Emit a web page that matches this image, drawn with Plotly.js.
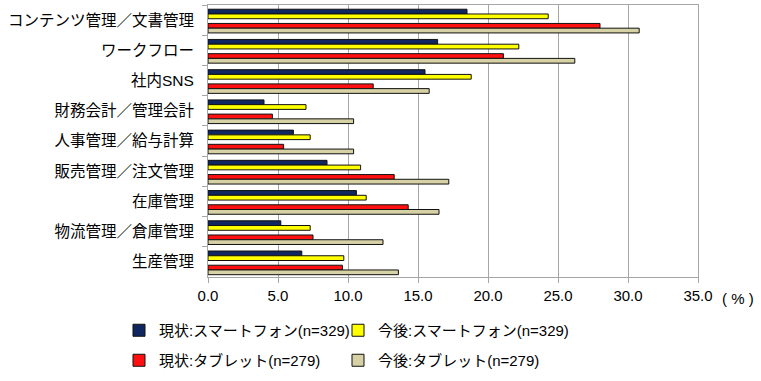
<!DOCTYPE html>
<html>
<head>
<meta charset="utf-8">
<script src="https://cdn.plot.ly/plotly-3.0.1.min.js"></script>
<style>html,body{margin:0;padding:0;background:#fff;}#chart{width:761px;height:381px;}</style>
</head>
<body>
<div id="chart"></div>
<script>
const categories = ["コンテンツ管理／文書管理","ワークフロー","社内SNS","財務会計／管理会計","人事管理／給与計算","販売管理／注文管理","在庫管理","物流管理／倉庫管理","生産管理"];
const currentSmartphone = [18.5, 16.4, 15.5, 4.0, 6.1, 8.5, 10.6, 5.2, 6.7];
const futureSmartphone  = [24.3, 22.2, 18.8, 7.0, 7.3, 10.9, 11.3, 7.3, 9.7];
const currentTablet     = [28.0, 21.1, 11.8, 4.6, 5.4, 13.3, 14.3, 7.5, 9.6];
const futureTablet      = [30.8, 26.2, 15.8, 10.4, 10.4, 17.2, 16.5, 12.5, 13.6];
const seriesNames = ["現状:スマートフォン(n=329)","今後:スマートフォン(n=329)","現状:タブレット(n=279)","今後:タブレット(n=279)"];
const tickVals = [0,5,10,15,20,25,30,35];
const tickText = ["0.0","5.0","10.0","15.0","20.0","25.0","30.0","35.0"];

const FONT = "'Liberation Sans', Arial, 'Noto Sans CJK JP', sans-serif";
const colors = ["#0f2660", "#ffff00", "#ff1010", "#d7d1a6"];
const offsets = [-0.36, -0.203, 0.11, 0.267];
const W = 0.157;
const data = [currentSmartphone, futureSmartphone, currentTablet, futureTablet];
const legendIds = ["legend", "legend2", "legend3", "legend4"];
const legendPos = [[119, 314], [338, 314], [119, 344], [338, 344]];

const traces = data.map((vals, i) => ({
  type: "bar",
  orientation: "h",
  x: vals,
  y: categories,
  name: seriesNames[i],
  width: W,
  offset: offsets[i],
  marker: {color: colors[i], line: {color: "#111", width: 1}},
  legend: legendIds[i],
  hoverinfo: "x+y"
}));

const layout = {
  width: 761, height: 381,
  margin: {l: 208, r: 63, t: 5, b: 104},
  barmode: "overlay",
  paper_bgcolor: "#fff", plot_bgcolor: "#fff",
  font: {family: FONT, size: 15, color: "#000"},
  xaxis: {
    range: [0, 35], tickvals: tickVals, ticktext: tickText,
    showgrid: true, gridcolor: "#a6a6a6", gridwidth: 1,
    showline: true, linecolor: "#a6a6a6", linewidth: 1, mirror: true,
    ticks: "outside", ticklen: 5, tickcolor: "#a6a6a6",
    zeroline: false, tickfont: {size: 15, family: FONT}
  },
  yaxis: {
    type: "category", range: [8.5, -0.5], autorange: false,
    showline: true, linecolor: "#a6a6a6", linewidth: 1, mirror: true,
    ticks: "outside", ticklen: 5, tickcolor: "#a6a6a6", tickson: "boundaries",
    showgrid: false, tickfont: {size: 15.5, family: FONT},
    ticklabelstandoff: 10
  },
  annotations: [{
    text: "( % )", xref: "paper", yref: "paper", x: 1, xshift: 22, y: 0, yshift: -21,
    xanchor: "left", yanchor: "middle", showarrow: false,
    font: {size: 15, family: FONT}
  }],
  showlegend: true
};
legendIds.forEach((id, i) => {
  layout[id] = {
    orientation: "h", xref: "container", yref: "container",
    x: legendPos[i][0] / 761, y: 1 - legendPos[i][1] / 381,
    xanchor: "left", yanchor: "top", itemwidth: 30,
    font: {size: 15, family: FONT}, bgcolor: "rgba(0,0,0,0)", borderwidth: 0
  };
});

Plotly.newPlot("chart", traces, layout, {displayModeBar: false, staticPlot: true});
</script>
</body>
</html>
